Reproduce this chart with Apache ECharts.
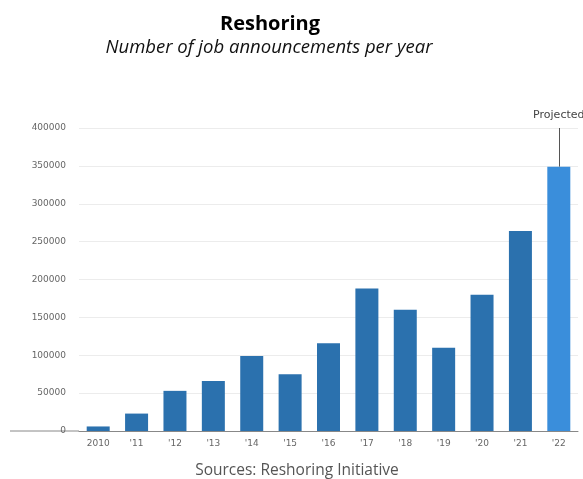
<!DOCTYPE html>
<html>
<head>
<meta charset="utf-8">
<script src="https://cdn.jsdelivr.net/npm/echarts@6/dist/echarts.min.js"></script>
<style>
  html, body { margin: 0; padding: 0; background: #fff; }
  #chart { width: 583px; height: 479px; }
</style>
</head>
<body>
<div id="chart"></div>
<script>
// data
const years = ['2010', "'11", "'12", "'13", "'14", "'15", "'16", "'17", "'18", "'19", "'20", "'21", "'22"]
const jobs = [6000, 23000, 53000, 66000, 99000, 75000, 116000, 188000, 160000, 110000, 180000, 264000, 349000]
const projectedYear = "'22"
const projectedTop = 400000

const barColor = '#2b71ae'
const projColor = '#3a8edb'

const chart = echarts.init(document.getElementById('chart'))

chart.setOption({
  animation: false,
  title: [
    {
      text: 'Reshoring',
      left: 265,
      textAlign: 'center',
      top: 9,
      textStyle: { fontFamily: 'Open Sans', fontWeight: 'bold', fontSize: 20, color: '#000' }
    },
    {
      text: 'Number of job announcements per year',
      left: 264,
      textAlign: 'center',
      top: 33,
      textStyle: { fontFamily: 'Open Sans', fontStyle: 'italic', fontWeight: 'normal', fontSize: 18.5, color: '#111' }
    },
    {
      text: 'Sources: Reshoring Initiative',
      left: 292,
      textAlign: 'center',
      top: 458,
      textStyle: { fontFamily: 'Open Sans', fontWeight: 'normal', fontSize: 15.5, color: '#555' }
    }
  ],
  grid: { left: 79, right: 5, top: 128, bottom: 48 },
  xAxis: {
    type: 'category',
    data: years,
    axisLine: { lineStyle: { color: '#888', width: 1 } },
    axisTick: { alignWithLabel: true, length: 4, lineStyle: { color: '#999' } },
    axisLabel: { color: '#666', fontSize: 9, margin: 8, fontFamily: 'DejaVu Sans' }
  },
  yAxis: {
    type: 'value',
    min: 0,
    max: 400000,
    interval: 50000,
    axisLine: { show: false },
    axisTick: { show: false },
    axisLabel: {
      color: '#666',
      fontSize: 9,
      margin: 13,
      fontFamily: 'DejaVu Sans',
      formatter: function(v) { return String(v) }
    },
    splitLine: { lineStyle: { color: '#ececec', width: 1 } }
  },
  series: [
    {
      type: 'bar',
      barWidth: 23,
      clip: false,
      data: jobs.map(function(v, i) {
        return {
          value: v,
          itemStyle: { color: years[i] === projectedYear ? projColor : barColor }
        }
      }),
      markLine: {
        silent: true,
        symbol: 'none',
        lineStyle: { color: '#555', type: 'solid', width: 1 },
        label: {
          show: true,
          position: 'end',
          formatter: 'Projected',
          color: '#444',
          fontSize: 11,
          fontFamily: 'DejaVu Sans',
          distance: 7
        },
        data: [
          [
            { coord: [years.length - 1, jobs[jobs.length - 1]] },
            { coord: [years.length - 1, projectedTop] }
          ]
        ]
      }
    }
  ]
})

// axis line runs out past the tick labels on the left
const y0 = chart.convertToPixel({ yAxisIndex: 0 }, 0)
chart.setOption({
  graphic: [
    {
      type: 'line',
      shape: { x1: 10, y1: y0, x2: 79, y2: y0 },
      style: { stroke: '#888', lineWidth: 1 },
      silent: true
    }
  ]
})
</script>
</body>
</html>
